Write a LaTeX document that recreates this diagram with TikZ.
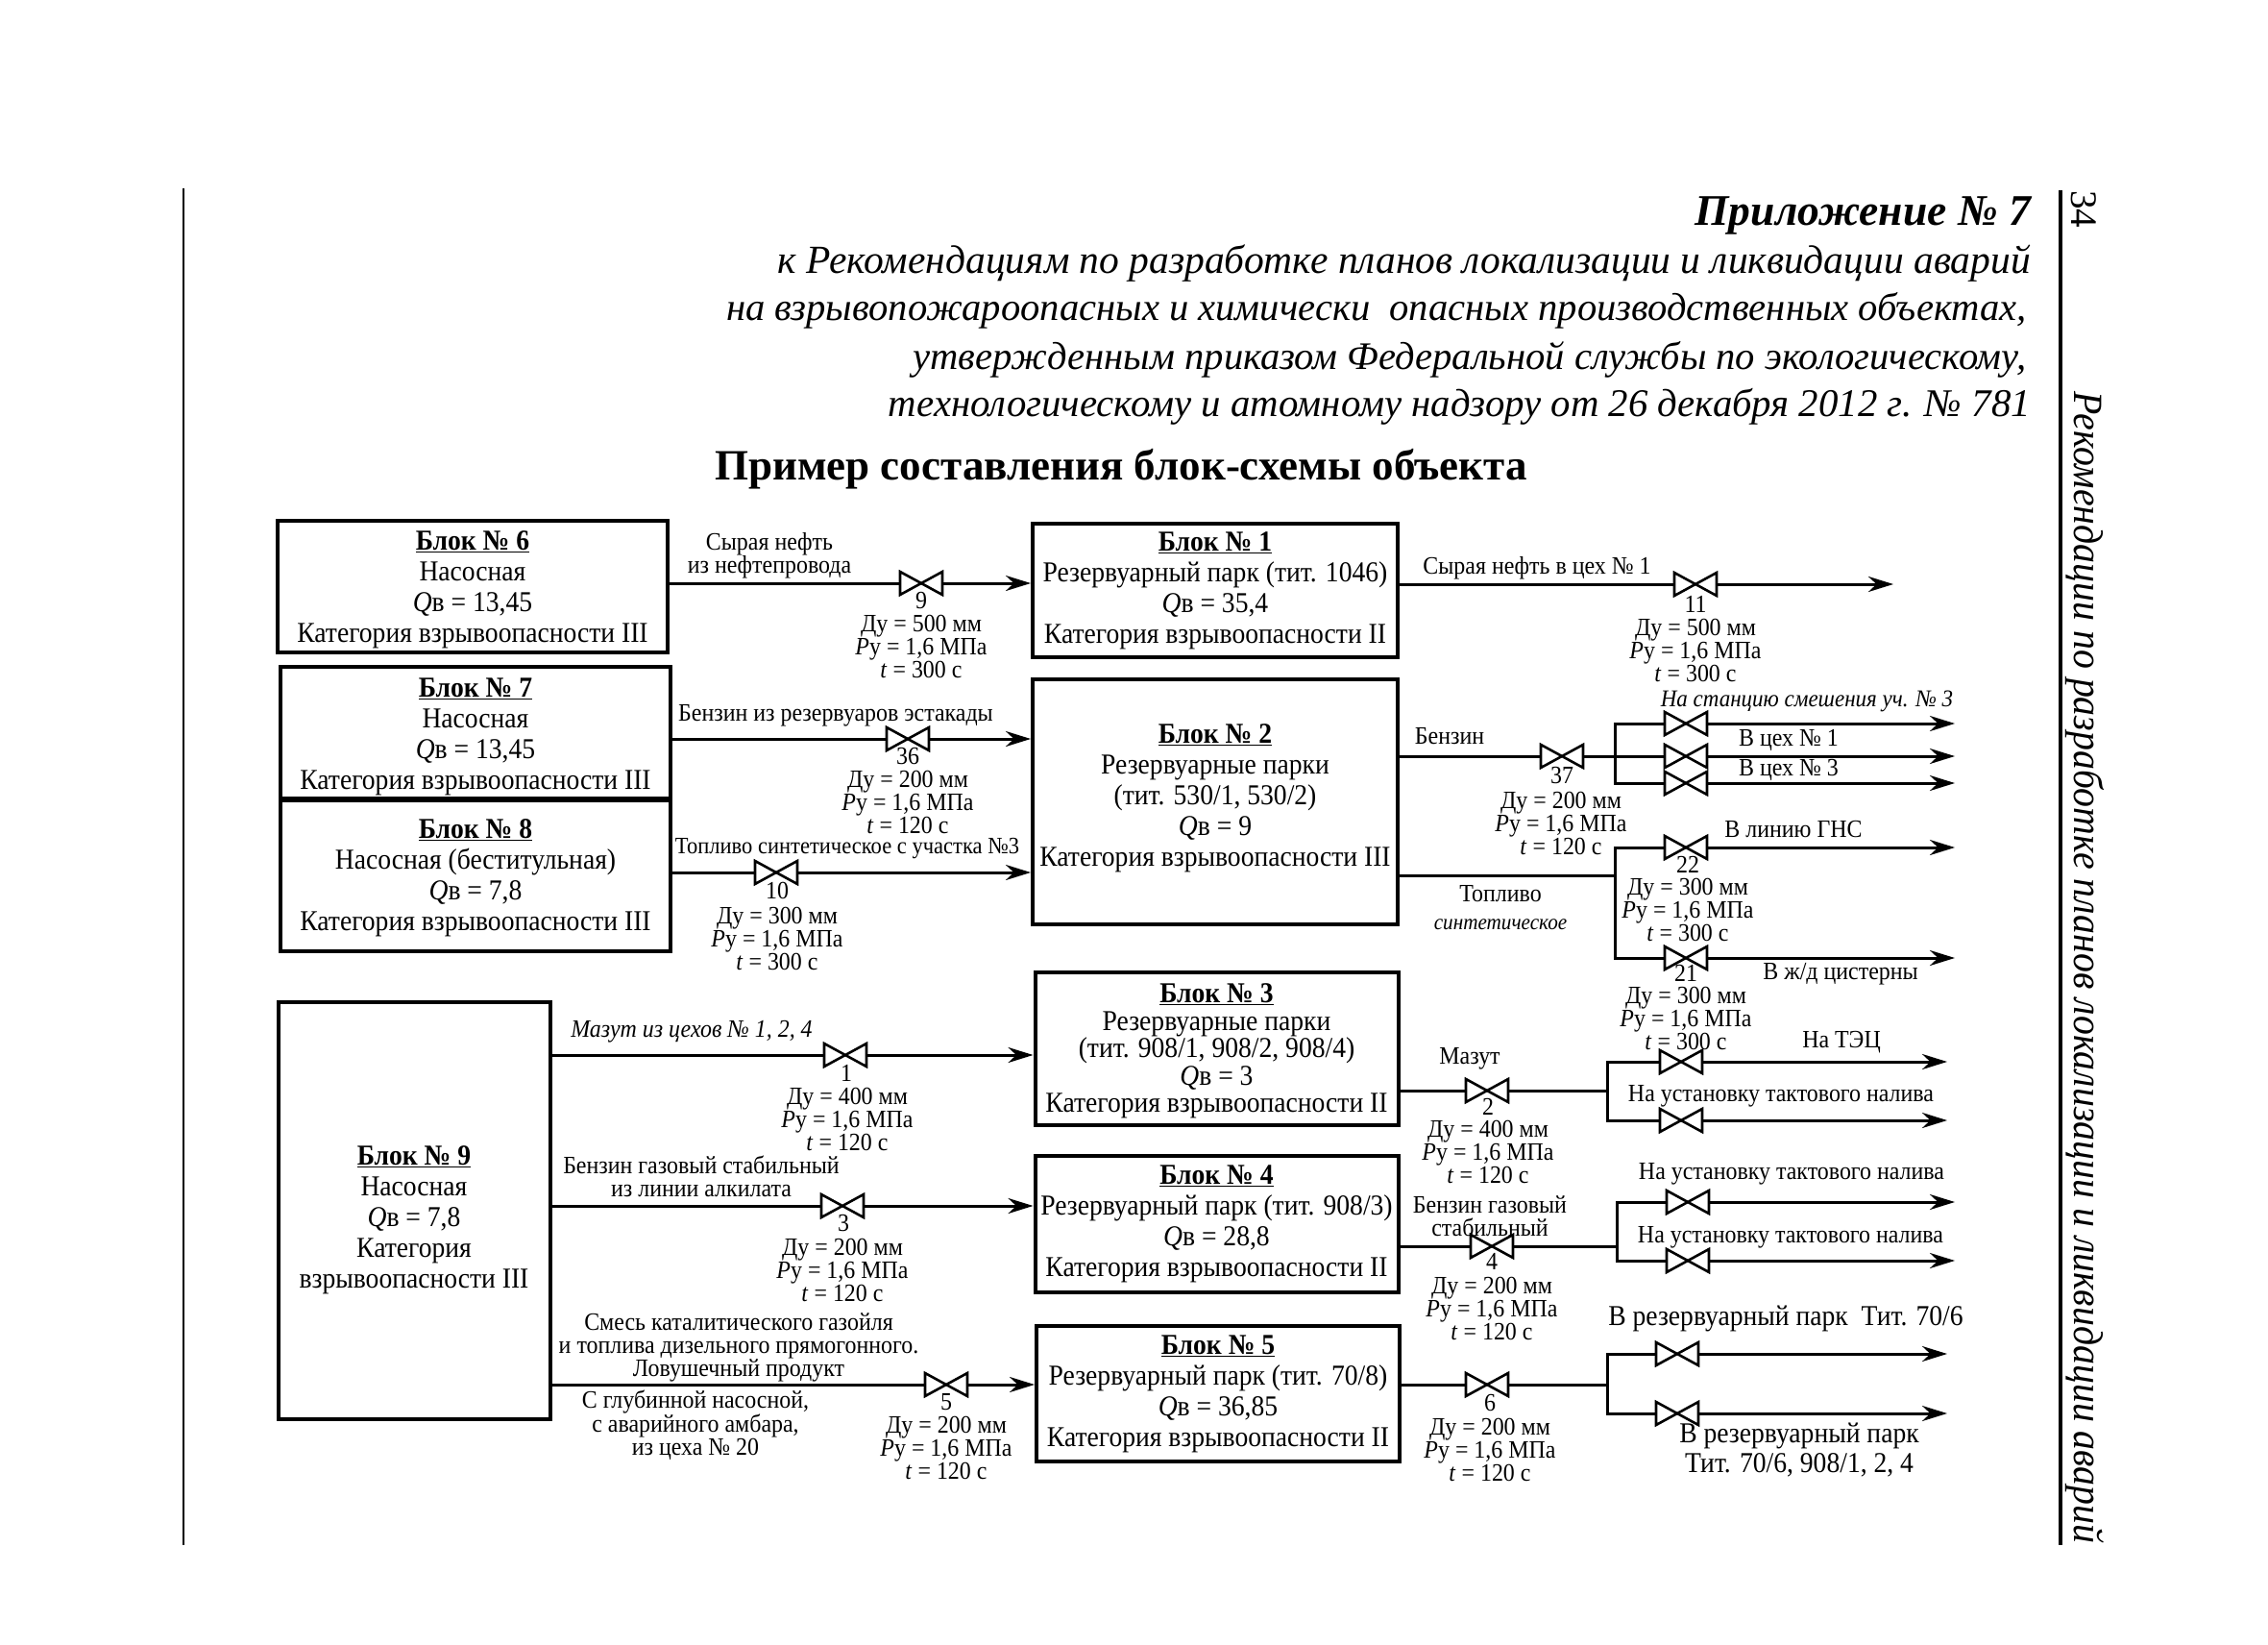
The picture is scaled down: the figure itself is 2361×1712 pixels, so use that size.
\documentclass[tikz,border=0pt]{standalone}
\usepackage{fontspec}
\setmainfont{Liberation Serif}
\newfontfamily\condfont[FakeStretch=0.92]{Liberation Serif}
\usepackage{tikz}
\usetikzlibrary{arrows.meta,calc}
\newcommand{\blockhead}[1]{\underline{\textbf{Блок № #1}}}
\newcommand{\pipedata}[2]{Ду = #1 мм\\\textit{P}у = 1,6 МПа\\\textit{t} = #2 с}
\tikzset{
  blockbox/.style={draw, line width=4pt, inner sep=0pt, align=center,
    font=\condfont\fontsize{30}{32}\selectfont},
  valve/.style={minimum width=44pt, minimum height=24pt, inner sep=0pt, outer sep=0pt,
    append after command={\pgfextra{\draw[line width=2.6pt, line join=miter]
      (\tikzlastnode.north west) -- (\tikzlastnode.south east) --
      (\tikzlastnode.north east) -- (\tikzlastnode.south west) -- cycle;}}},
  %% Pipe lines
  pipe/.style={line width=3pt},
  flow/.style={pipe, ->, >={Stealth[length=26pt, width=16pt]}},
  %% Texts on the lines
  lbl/.style={inner sep=0pt, align=center, font=\condfont\fontsize{26}{24}\selectfont},
  param/.style={inner sep=0pt, align=center, font=\condfont\fontsize{26}{24}\selectfont},
  num/.style={inner sep=0pt, font=\condfont\fontsize{26}{24}\selectfont},
  headline/.style={inner sep=0pt, anchor=east, font=\itshape\fontsize{40.6}{44}\selectfont},
}
\begin{document}
\begin{tikzpicture}[x=1pt, y=-1pt]
\useasboundingbox (0,0) rectangle (2361,1712);

%% Page rules
\coordinate (ruleLT) at (191,196);
\coordinate (ruleLB) at (191,1608);
\coordinate (ruleRT) at (2145,198);
\coordinate (ruleRB) at (2145,1608);
\draw[line width=2pt] (ruleLT) -- (ruleLB);
\draw[line width=4pt] (ruleRT) -- (ruleRB);
\node[inner sep=0pt, rotate=-90, font=\fontsize{39}{40}\selectfont] (pageNo) at (2169,218) {34};
\node[inner sep=0pt, rotate=-90, font=\condfont\itshape\fontsize{43.3}{44}\selectfont] (runHead) at (2170,1007)
  {Рекомендации по разработке планов локализации и ликвидации аварий};

%% Heading
\node[headline, font=\bfseries\itshape\fontsize{45.5}{48}\selectfont] (hApp) at (2114,224) {Приложение № 7};
\node[headline, font=\itshape\fontsize{41.5}{44}\selectfont] (hLine1) at (2114,274) {к Рекомендациям по разработке планов локализации и ликвидации аварий};
\node[headline] (hLine2) at (2110,323) {на взрывопожароопасных и химически \ опасных производственных объектах,};
\node[headline] (hLine3) at (2110,374) {утвержденным приказом Федеральной службы по экологическому,};
\node[headline, font=\itshape\fontsize{40.8}{44}\selectfont] (hLine4) at (2114,423) {технологическому и атомному надзору от 26 декабря 2012 г. № 781};
\node[inner sep=0pt, font=\bfseries\fontsize{45}{48}\selectfont] (title) at (1167,488) {Пример составления блок-схемы объекта};

%% Blocks
\node[blockbox, minimum width=406pt, minimum height=137pt] (b6) at (492,610.5)
  {\rule{0pt}{26pt}\blockhead{6}\\Насосная\\\textit{Q}в = 13,45\\Категория взрывоопасности III};
\node[blockbox, minimum width=406pt, minimum height=137pt] (b7) at (495,762.5)
  {\rule{0pt}{28pt}\blockhead{7}\\Насосная\\\textit{Q}в = 13,45\\Категория взрывоопасности III};
\node[blockbox, minimum width=406pt, minimum height=157pt] (b8) at (495,911.5)
  {\rule{0pt}{25pt}\blockhead{8}\\Насосная (беститульная)\\\textit{Q}в = 7,8\\Категория взрывоопасности III};
\node[blockbox, minimum width=283pt, minimum height=434pt] (b9) at (431,1259.5)
  {\rule{0pt}{41pt}\blockhead{9}\\Насосная\\\textit{Q}в = 7,8\\Категория\\взрывоопасности III};
\node[blockbox, minimum width=380pt, minimum height=139pt] (b1) at (1265,614.5)
  {\blockhead{1}\\Резервуарный парк (тит. 1046)\\\textit{Q}в = 35,4\\Категория взрывоопасности II};
\node[blockbox, minimum width=380pt, minimum height=255pt] (b2) at (1265,834.5)
  {\blockhead{2}\\Резервуарные парки\\(тит. 530/1, 530/2)\\\textit{Q}в = 9\\Категория взрывоопасности III\rule[-14pt]{0pt}{14pt}};
\node[blockbox, minimum width=378pt, minimum height=159pt, font=\condfont\fontsize{30}{28.5}\selectfont] (b3) at (1266.5,1091.5)
  {\rule{0pt}{25pt}\blockhead{3}\\Резервуарные парки\\(тит. 908/1, 908/2, 908/4)\\\textit{Q}в = 3\\Категория взрывоопасности II};
\node[blockbox, minimum width=378pt, minimum height=142pt] (b4) at (1266.5,1274)
  {\blockhead{4}\\Резервуарный парк (тит. 908/3)\\\textit{Q}в = 28,8\\Категория взрывоопасности II};
\node[blockbox, minimum width=378pt, minimum height=141pt] (b5) at (1268,1450.5)
  {\blockhead{5}\\Резервуарный парк (тит. 70/8)\\\textit{Q}в = 36,85\\Категория взрывоопасности II};

%% Valves on the left
\node[valve] (v9)  at (959,607) {};
\node[valve] (v36) at (945,769) {};
\node[valve] (v10) at (808,908) {};
\node[valve] (v1)  at (880,1098) {};
\node[valve] (v3)  at (877,1255) {};
\node[valve] (v5)  at (985,1441) {};

\draw[pipe] (b6.east |- v9) -- (v9);
\draw[flow] (v9) -- (v9 -| b1.west);
\draw[pipe] (b7.east |- v36) -- (v36);
\draw[flow] (v36) -- (v36 -| b2.west);
\draw[pipe] (b8.east |- v10) -- (v10);
\draw[flow] (v10) -- (v10 -| b2.west);
\draw[pipe] (b9.east |- v1) -- (v1);
\draw[flow] (v1) -- (v1 -| b3.west);
\draw[pipe] (b9.east |- v3) -- (v3);
\draw[flow] (v3) -- (v3 -| b4.west);
\draw[pipe] (b9.east |- v5) -- (v5);
\draw[flow] (v5) -- (v5 -| b5.west);

\node[lbl] (lCrude) at (801,578) {Сырая нефть\\из нефтепровода};
\node[num] (n9) at (959,625) {9};
\node[param] (p9) at (959,673) {\pipedata{500}{300}};
\node[lbl] (lPetrol) at (870,745) {Бензин из резервуаров эстакады};
\node[num] (n36) at (945,787) {36};
\node[param] (p36) at (945,835) {\pipedata{200}{120}};
\node[lbl, font=\condfont\fontsize{24.5}{24}\selectfont] (lSynth) at (882,883) {Топливо синтетическое с участка №3};
\node[num] (n10) at (809,927) {10};
\node[param] (p10) at (809,977) {\pipedata{300}{300}};
\node[lbl, font=\condfont\itshape\fontsize{26}{24}\selectfont] (lFuel) at (720,1074) {Мазут из цехов № 1, 2, 4};
\node[num] (n1) at (881,1117) {1};
\node[param] (p1) at (882,1165) {\pipedata{400}{120}};
\node[lbl] (lGas) at (730,1224) {Бензин газовый стабильный\\из линии алкилата};
\node[num] (n3) at (878,1273) {3};
\node[param] (p3) at (877,1322) {\pipedata{200}{120}};
\node[lbl] (lMix) at (769,1402) {Смесь каталитического газойля\\и топлива дизельного прямогонного.\\Ловушечный продукт};
\node[lbl] (lFrom) at (724,1483) {С глубинной насосной,\\с аварийного амбара,\\из цеха № 20};
\node[num] (n5) at (985,1459) {5};
\node[param] (p5) at (985,1507) {\pipedata{200}{120}};

%% Valves on the right
\coordinate (tipA) at (2035,0);
\coordinate (tipB) at (2027,0);
\coordinate (tipC) at (1971,0);
\coordinate (jBenz) at (1681,787);
\coordinate (jSynth) at (1681,911);
\coordinate (jFuel) at (1673,1135);
\coordinate (jGas) at (1683,1297);
\coordinate (jPark) at (1673,1441);

\node[valve] (v11) at (1765,608) {};
\node[valve] (v37) at (1626,787) {};
\node[valve] (vStation) at (1755,753) {};
\node[valve] (vShop1) at (1755,787) {};
\node[valve] (vShop3) at (1755,815) {};
\node[valve] (v22) at (1755,882) {};
\node[valve] (v21) at (1755,997) {};
\node[valve] (v2) at (1548,1135) {};
\node[valve] (vPower) at (1750,1105) {};
\node[valve] (vCycleA) at (1750,1166) {};
\node[valve] (v4) at (1553,1297) {};
\node[valve] (vCycleB) at (1757,1251) {};
\node[valve] (vCycleC) at (1757,1312) {};
\node[valve] (v6) at (1548,1441) {};
\node[valve] (vParkA) at (1746,1409) {};
\node[valve] (vParkB) at (1746,1471) {};

\draw[pipe] (b1.east |- v11) -- (v11);
\draw[flow] (v11) -- (v11 -| tipC);
\draw[pipe] (b2.east |- v37) -- (v37);
\draw[pipe] (v37) -- (vShop1);
\draw[pipe] (vStation) -| (jBenz) |- (vShop3);
\draw[pipe] (b2.east |- jSynth) -- (jSynth);
\draw[pipe] (v22) -| (jSynth) |- (v21);
\draw[pipe] (b3.east |- v2) -- (v2);
\draw[pipe] (v2) -- (jFuel);
\draw[pipe] (vPower) -| (jFuel) |- (vCycleA);
\draw[pipe] (b4.east |- v4) -- (v4);
\draw[pipe] (v4) -- (jGas);
\draw[pipe] (vCycleB) -| (jGas) |- (vCycleC);
\draw[pipe] (b5.east |- v6) -- (v6);
\draw[pipe] (v6) -- (jPark);
\draw[pipe] (vParkA) -| (jPark) |- (vParkB);

\foreach \v in {vStation, vShop1, vShop3, v22, v21, vCycleB, vCycleC}
  \draw[flow] (\v) -- (\v -| tipA);
\foreach \v in {vPower, vCycleA, vParkA, vParkB}
  \draw[flow] (\v) -- (\v -| tipB);

\node[lbl] (lCrudeOut) at (1600,591) {Сырая нефть в цех № 1};
\node[num] (n11) at (1765,629) {11};
\node[param] (p11) at (1765,677) {\pipedata{500}{300}};
\node[lbl] (lBenz) at (1509,766) {Бензин};
\node[num] (n37) at (1626,807) {37};
\node[param] (p37) at (1625,857) {\pipedata{200}{120}};
\node[lbl, font=\condfont\itshape\fontsize{25}{24}\selectfont] (lStation) at (1881,730) {На станцию смешения уч. № 3};
\node[lbl] (lShop1) at (1862,770) {В цех № 1};
\node[lbl] (lShop3) at (1862,801) {В цех № 3};
\node[lbl] (lGns) at (1867,863) {В линию ГНС};
\node[num] (n22) at (1757,900) {22};
\node[param] (p22) at (1757,947) {\pipedata{300}{300}};
\node[lbl] (lRail) at (1916,1014) {В ж/д цистерны};
\node[num] (n21) at (1755,1013) {21};
\node[param] (p21) at (1755,1060) {\pipedata{300}{300}};
\node[lbl, font=\condfont\fontsize{26}{29}\selectfont] (lSynthOut) at (1562,945) {Топливо\\\itshape\fontsize{23}{29}\selectfont синтетическое};
\node[lbl] (lFuelOut) at (1530,1102) {Мазут};
\node[num] (n2) at (1549,1152) {2};
\node[param] (p2) at (1549,1199) {\pipedata{400}{120}};
\node[lbl] (lPower) at (1917,1085) {На ТЭЦ};
\node[lbl] (lCycleA) at (1854,1141) {На установку тактового налива};
\node[lbl] (lGasOut) at (1551,1266) {Бензин газовый\\стабильный};
\node[num] (n4) at (1553,1313) {4};
\node[param] (p4) at (1553,1362) {\pipedata{200}{120}};
\node[lbl] (lCycleB) at (1865,1222) {На установку тактового налива};
\node[lbl] (lCycleC) at (1864,1288) {На установку тактового налива};
\node[lbl, font=\condfont\fontsize{30}{30}\selectfont] (lParkA) at (1859,1372) {В резервуарный парк \ Тит. 70/6};
\node[num] (n6) at (1551,1460) {6};
\node[param] (p6) at (1551,1509) {\pipedata{200}{120}};
\node[lbl, font=\condfont\fontsize{30}{31}\selectfont] (lParkB) at (1873,1509) {В резервуарный парк\\Тит. 70/6, 908/1, 2, 4};

\end{tikzpicture}
\end{document}
